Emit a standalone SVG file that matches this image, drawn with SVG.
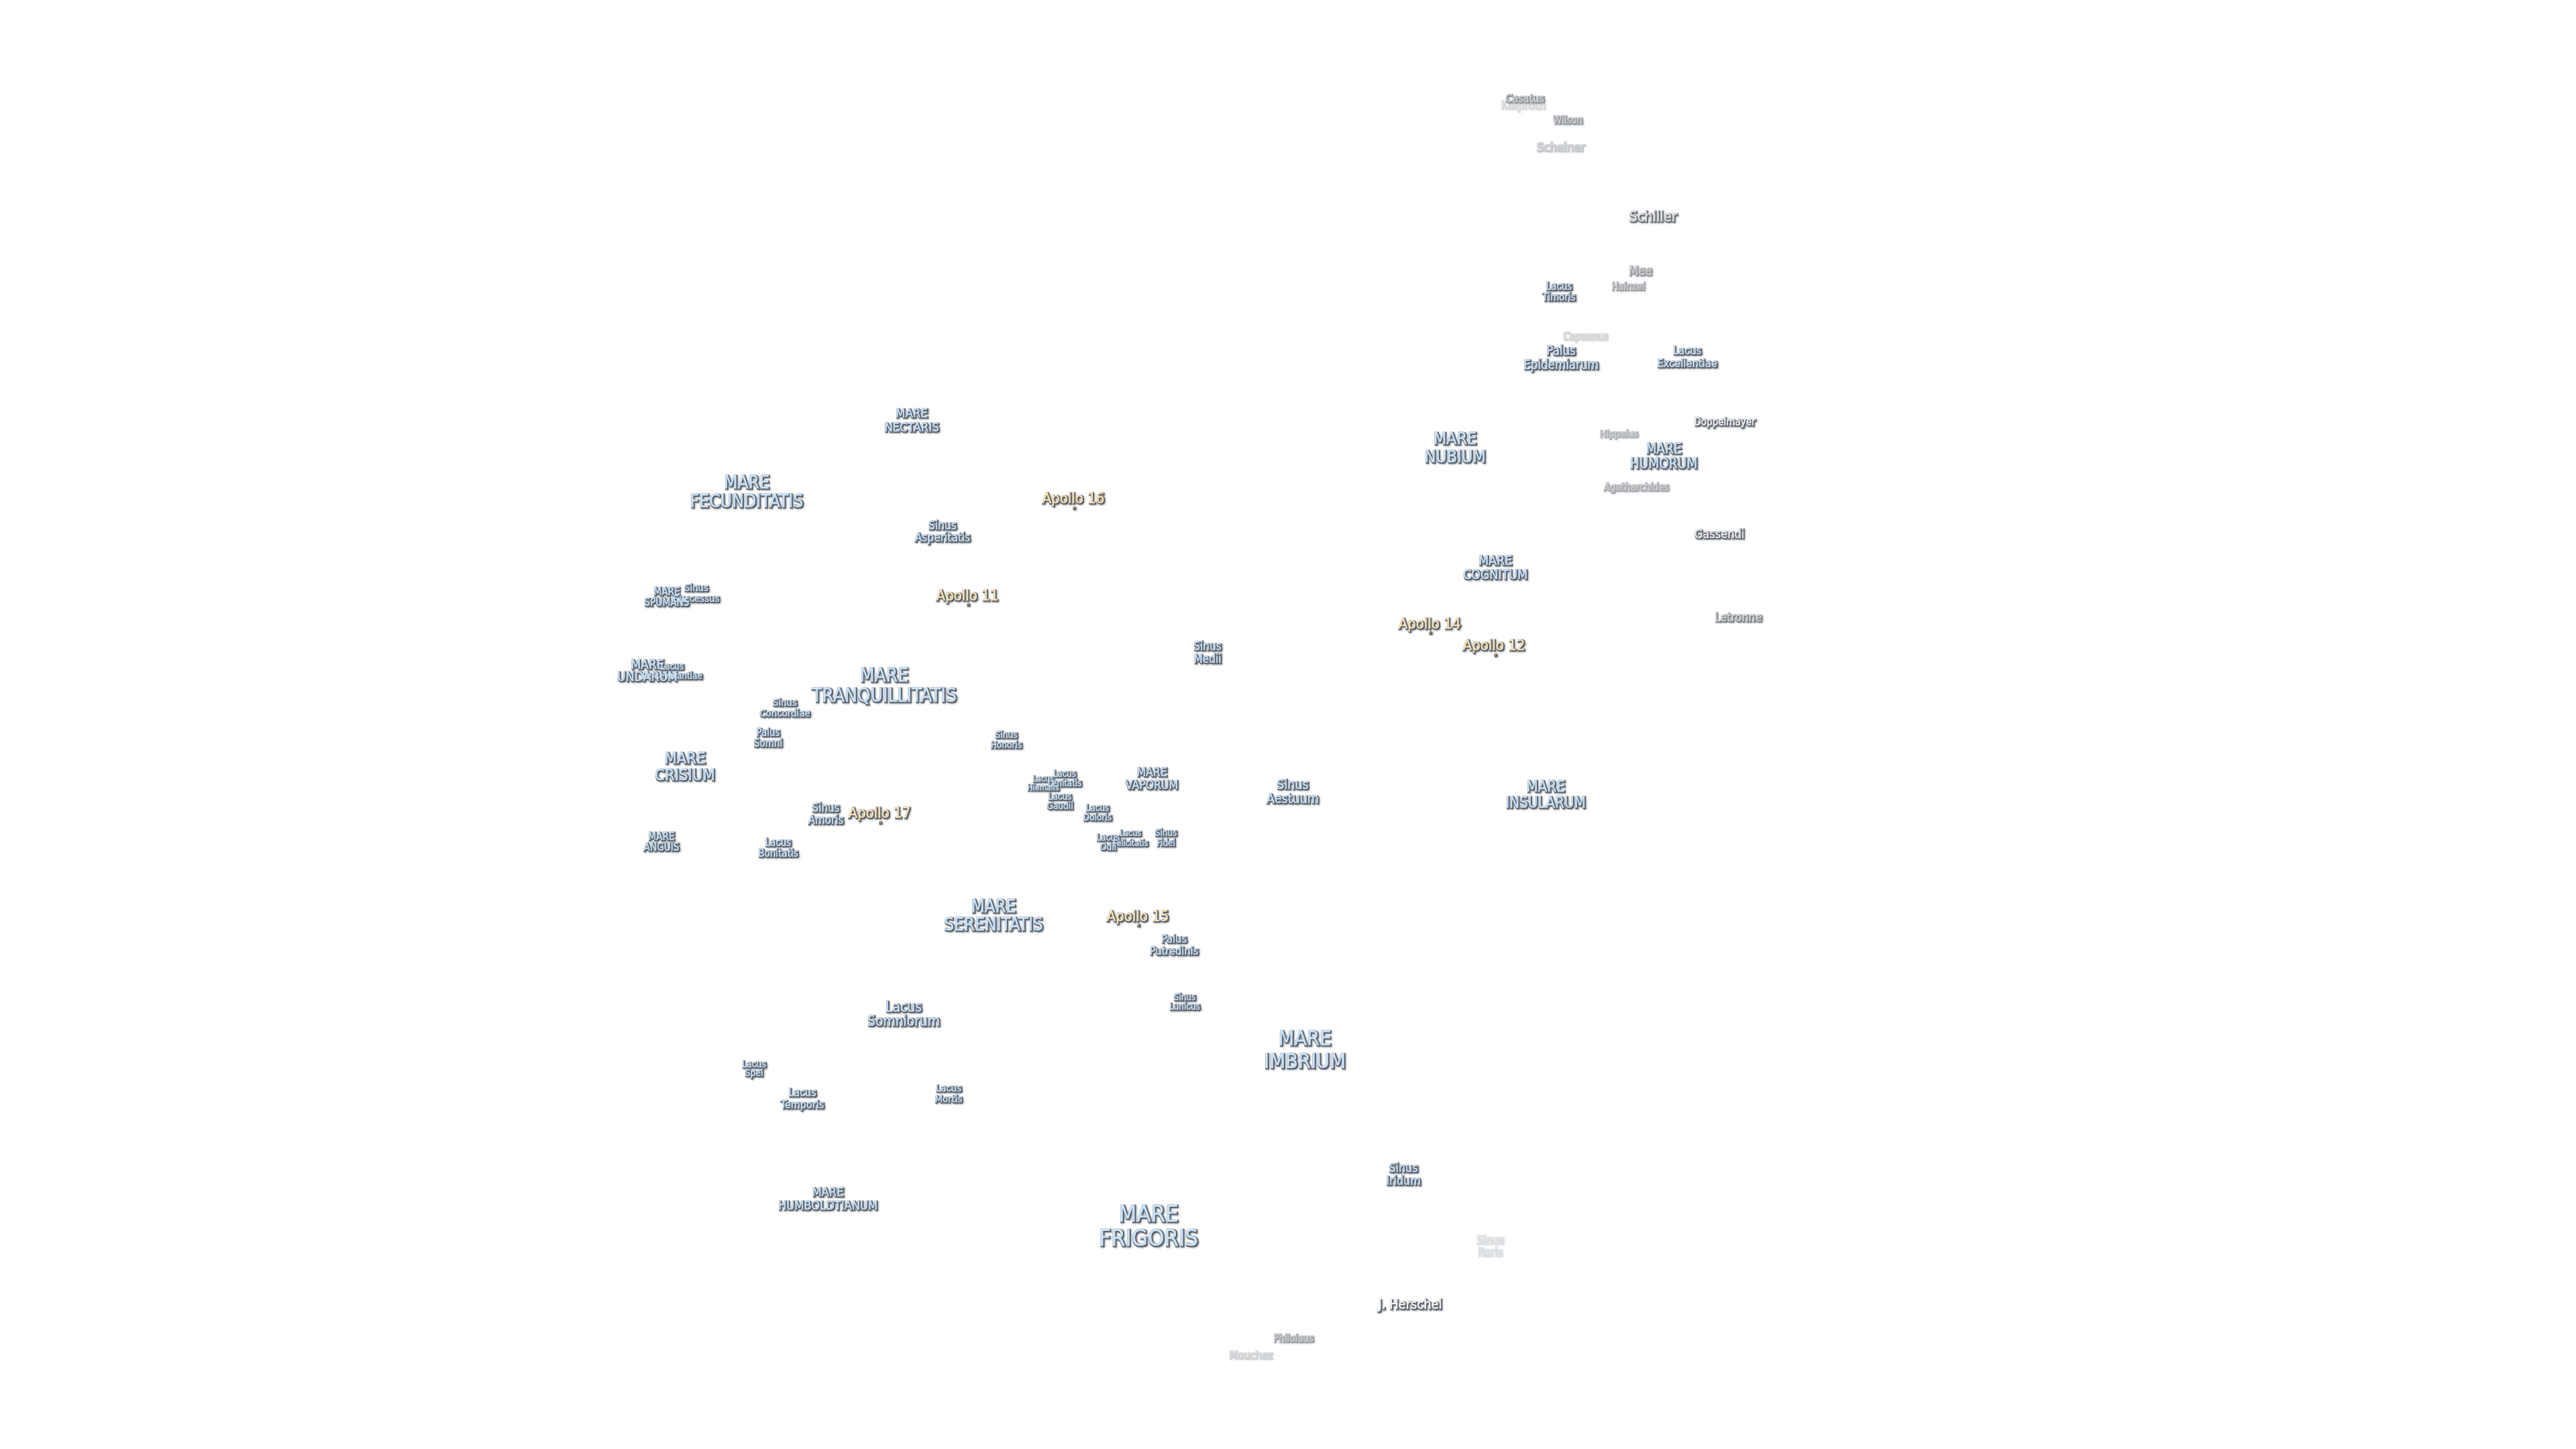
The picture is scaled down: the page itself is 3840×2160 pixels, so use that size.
<svg xmlns="http://www.w3.org/2000/svg" width="3840" height="2160" viewBox="0 0 3840 2160">
<style>
text{font-family:"DejaVu Sans Condensed","DejaVu Sans",sans-serif;font-stretch:condensed;text-anchor:middle;dominant-baseline:central;stroke-width:.5;stroke-linejoin:round}
.sea text{fill:#cbe3f9;stroke:#cbe3f9}
.apollo text{fill:#fde6b8;stroke:#fde6b8}
.crater text{fill:#fafafa;stroke:#fafafa}
.dot{fill:#d9a050;stroke:#777;stroke-width:.4}
</style>
<defs>
<filter id="soft" x="0" y="0" width="3840" height="2160" filterUnits="userSpaceOnUse" color-interpolation-filters="sRGB">
<feMorphology in="SourceAlpha" operator="dilate" radius="0.65" result="d"/>
<feOffset in="d" dx="0.5" dy="0.7"/><feGaussianBlur stdDeviation="0.45" result="o1"/>
<feFlood flood-color="#4c535d" flood-opacity=".85"/><feComposite in2="o1" operator="in" result="edge"/>
<feOffset in="d" dx="1.7" dy="2.1"/><feGaussianBlur stdDeviation="1" result="o2"/>
<feFlood flood-color="#444a52" flood-opacity=".5"/><feComposite in2="o2" operator="in" result="sh"/>
<feMerge result="m"><feMergeNode in="sh"/><feMergeNode in="edge"/><feMergeNode in="SourceGraphic"/></feMerge>
<feGaussianBlur in="m" stdDeviation="0.5"/>
</filter>
</defs>
<rect width="3840" height="2160" fill="#fff"/>
<g id="connectors"/>
<g id="map" filter="url(#soft)" transform="translate(0,-1)">
<g class="crater">
<g id="klaproth" opacity=".18"><text x="2270" y="157" font-size="17.6">Klaproth</text></g>
<g id="casatus" opacity=".62"><text x="2273" y="147" font-size="16.1">Casatus</text></g>
<g id="wilson" opacity=".55"><text x="2337" y="180" font-size="15">Wilson</text></g>
<g id="scheiner" opacity=".28"><text x="2326" y="219" font-size="18.3">Scheiner</text></g>
<g id="schiller" opacity=".85"><text x="2464" y="323" font-size="21.5">Schiller</text></g>
<g id="mee" opacity=".55"><text x="2445" y="404" font-size="18.6">Mee</text></g>
<g id="hainzel" opacity=".5"><text x="2427" y="428" font-size="15">Hainzel</text></g>
<g id="capuanus" opacity=".2"><text x="2363" y="502" font-size="15">Capuanus</text></g>
<g id="hippalus" opacity=".4"><text x="2413" y="646" font-size="14.7">Hippalus</text></g>
<g id="doppelmayer" opacity=".95"><text x="2571" y="630" font-size="15">Doppelmayer</text></g>
<g id="agatharchides" opacity=".45"><text x="2439" y="727" font-size="15">Agatharchides</text></g>
<g id="gassendi" opacity=".9"><text x="2563" y="796" font-size="18">Gassendi</text></g>
<g id="letronne" opacity=".7"><text x="2591" y="921" font-size="17.7">Letronne</text></g>
<g id="herschel"><text x="2102" y="1945" font-size="19.9">J. Herschel</text></g>
<g id="philolaus" opacity=".5"><text x="1928" y="1996" font-size="15">Philolaus</text></g>
<g id="mouchez" opacity=".22"><text x="1864" y="2020" font-size="16.3">Mouchez</text></g>
</g>
<g class="sea">
<g id="lacus-timoris"><text font-size="15"><tspan x="2324" y="428">Lacus</tspan><tspan x="2324" y="444">Timoris</tspan></text></g>
<g id="palus-epidemiarum"><text font-size="18.6"><tspan x="2327" y="523">Palus</tspan><tspan x="2327" y="544">Epidemiarum</tspan></text></g>
<g id="lacus-excellentiae"><text font-size="16.4"><tspan x="2515" y="523">Lacus</tspan><tspan x="2515" y="542">Excellentiae</tspan></text></g>
<g id="mare-nectaris"><text font-size="18.5"><tspan x="1359" y="616">MARE</tspan><tspan x="1359" y="637">NECTARIS</tspan></text></g>
<g id="mare-nubium"><text font-size="25"><tspan x="2169" y="654">MARE</tspan><tspan x="2169" y="681">NUBIUM</tspan></text></g>
<g id="mare-humorum"><text font-size="20.6"><tspan x="2480" y="670">MARE</tspan><tspan x="2480" y="692">HUMORUM</tspan></text></g>
<g id="mare-fecunditatis"><text font-size="26.4"><tspan x="1113" y="719">MARE</tspan><tspan x="1113" y="747">FECUNDITATIS</tspan></text></g>
<g id="sinus-asperitatis"><text font-size="17.2"><tspan x="1405" y="784">Sinus</tspan><tspan x="1405" y="802">Asperitatis</tspan></text></g>
<g id="mare-cognitum"><text font-size="19.4"><tspan x="2229" y="836">MARE</tspan><tspan x="2229" y="857">COGNITUM</tspan></text></g>
<g id="sinus-successus"><text font-size="14.8"><tspan x="1038" y="876">Sinus</tspan><tspan x="1038" y="892">Successus</tspan></text></g>
<g id="mare-spumans"><text font-size="15.2"><tspan x="994" y="883">MARE</tspan><tspan x="994" y="899">SPUMANS</tspan></text></g>
<g id="lacus-perseverantiae"><text font-size="13.3"><tspan x="1002" y="994">Lacus</tspan><tspan x="1002" y="1008">Perseverantiae</tspan></text></g>
<g id="mare-undarum"><text font-size="19.2"><tspan x="965" y="991">MARE</tspan><tspan x="965" y="1009">UNDARUM</tspan></text></g>
<g id="sinus-medii"><text font-size="17"><tspan x="1800" y="964">Sinus</tspan><tspan x="1800" y="983">Medii</tspan></text></g>
<g id="mare-tranquillitatis"><text font-size="28"><tspan x="1318" y="1007">MARE</tspan><tspan x="1318" y="1037">TRANQUILLITATIS</tspan></text></g>
<g id="sinus-concordiae"><text font-size="14.9"><tspan x="1170" y="1048">Sinus</tspan><tspan x="1170" y="1064">Concordiae</tspan></text></g>
<g id="palus-somni"><text font-size="15"><tspan x="1145" y="1093">Palus</tspan><tspan x="1145" y="1109">Somni</tspan></text></g>
<g id="sinus-honoris"><text font-size="13.6"><tspan x="1500" y="1096">Sinus</tspan><tspan x="1500" y="1111">Honoris</tspan></text></g>
<g id="mare-crisium"><text font-size="23.7"><tspan x="1021" y="1131">MARE</tspan><tspan x="1021" y="1156">CRISIUM</tspan></text></g>
<g id="mare-vaporum"><text font-size="17.5"><tspan x="1717" y="1152">MARE</tspan><tspan x="1717" y="1171">VAPORUM</tspan></text></g>
<g id="lacus-hiemalis"><text font-size="12.2"><tspan x="1555" y="1162">Lacus</tspan><tspan x="1555" y="1175">Hiemalis</tspan></text></g>
<g id="lacus-lenitatis"><text font-size="13.2"><tspan x="1587" y="1154">Lacus</tspan><tspan x="1587" y="1168">Lenitatis</tspan></text></g>
<g id="lacus-gaudii"><text font-size="13.5"><tspan x="1580" y="1188">Lacus</tspan><tspan x="1580" y="1202">Gaudii</tspan></text></g>
<g id="sinus-aestuum"><text font-size="19.5"><tspan x="1927" y="1170">Sinus</tspan><tspan x="1927" y="1191">Aestuum</tspan></text></g>
<g id="mare-insularum"><text font-size="22.3"><tspan x="2304" y="1173">MARE</tspan><tspan x="2304" y="1197">INSULARUM</tspan></text></g>
<g id="sinus-amoris"><text font-size="16.8"><tspan x="1231" y="1205">Sinus</tspan><tspan x="1231" y="1223">Amoris</tspan></text></g>
<g id="lacus-doloris"><text font-size="13.5"><tspan x="1636" y="1205">Lacus</tspan><tspan x="1636" y="1219">Doloris</tspan></text></g>
<g id="lacus-odii"><text font-size="13.5"><tspan x="1652" y="1249">Lacus</tspan><tspan x="1652" y="1263">Odii</tspan></text></g>
<g id="lacus-felicitatis"><text font-size="12.4"><tspan x="1685" y="1242">Lacus</tspan><tspan x="1685" y="1257">Felicitatis</tspan></text></g>
<g id="sinus-fidei"><text font-size="13.4"><tspan x="1738" y="1242">Sinus</tspan><tspan x="1738" y="1257">Fidei</tspan></text></g>
<g id="mare-anguis"><text font-size="15.2"><tspan x="986" y="1248">MARE</tspan><tspan x="986" y="1264">ANGUIS</tspan></text></g>
<g id="lacus-bonitatis"><text font-size="15"><tspan x="1160" y="1257">Lacus</tspan><tspan x="1160" y="1273">Bonitatis</tspan></text></g>
<g id="mare-serenitatis"><text font-size="26"><tspan x="1481" y="1352">MARE</tspan><tspan x="1481" y="1379">SERENITATIS</tspan></text></g>
<g id="palus-putredinis"><text font-size="16.3"><tspan x="1750" y="1400">Palus</tspan><tspan x="1750" y="1418">Putredinis</tspan></text></g>
<g id="sinus-lunicus"><text font-size="13.4"><tspan x="1766" y="1487">Sinus</tspan><tspan x="1766" y="1501">Lunicus</tspan></text></g>
<g id="lacus-somniorum"><text font-size="20.8"><tspan x="1347" y="1502">Lacus</tspan><tspan x="1347" y="1523">Somniorum</tspan></text></g>
<g id="mare-imbrium"><text font-size="30.6"><tspan x="1945" y="1548">MARE</tspan><tspan x="1945" y="1582">IMBRIUM</tspan></text></g>
<g id="lacus-spei"><text font-size="13.9"><tspan x="1124" y="1587">Lacus</tspan><tspan x="1124" y="1600">Spei</tspan></text></g>
<g id="lacus-temporis"><text font-size="16"><tspan x="1196" y="1629">Lacus</tspan><tspan x="1196" y="1647">Temporis</tspan></text></g>
<g id="lacus-mortis"><text font-size="14.8"><tspan x="1414" y="1622">Lacus</tspan><tspan x="1414" y="1638">Mortis</tspan></text></g>
<g id="mare-humboldtianum"><text font-size="18.2"><tspan x="1234" y="1777">MARE</tspan><tspan x="1234" y="1797">HUMBOLDTIANUM</tspan></text></g>
<g id="sinus-iridum"><text font-size="17.7"><tspan x="2092" y="1742">Sinus</tspan><tspan x="2092" y="1761">Iridum</tspan></text></g>
<g id="mare-frigoris"><text font-size="34.6"><tspan x="1712" y="1810">MARE</tspan><tspan x="1712" y="1846">FRIGORIS</tspan></text></g>
<g id="sinus-roris" opacity=".15"><text font-size="16.8"><tspan x="2221" y="1849">Sinus</tspan><tspan x="2221" y="1867">Roris</tspan></text></g>
</g>
<g class="apollo">
<g id="apollo-16"><text x="1600" y="743" font-size="22">Apollo 16</text><circle class="dot" cx="1601" cy="758" r="1.4"/></g>
<g id="apollo-11"><text x="1442" y="888" font-size="22">Apollo 11</text><circle class="dot" cx="1443" cy="902" r="1.4"/></g>
<g id="apollo-14"><text x="2131" y="930" font-size="22">Apollo 14</text><circle class="dot" cx="2132" cy="944" r="1.4"/></g>
<g id="apollo-12"><text x="2227" y="962" font-size="22">Apollo 12</text><circle class="dot" cx="2229" cy="977" r="1.4"/></g>
<g id="apollo-17"><text x="1311" y="1212" font-size="22">Apollo 17</text><circle class="dot" cx="1312" cy="1227" r="1.4"/></g>
<g id="apollo-15"><text x="1696" y="1366" font-size="22">Apollo 15</text><circle class="dot" cx="1697" cy="1380" r="1.4"/></g>
</g>
</g>
</svg>
